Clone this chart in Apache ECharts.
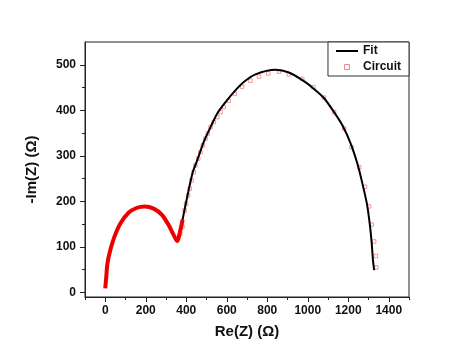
<!DOCTYPE html>
<html>
<head>
<meta charset="utf-8">
<script src="https://cdn.jsdelivr.net/npm/echarts@6/dist/echarts.min.js"></script>
<style>html,body{margin:0;padding:0;background:#fff;}#c{width:474px;height:355px;}</style>
</head>
<body>
<div id="c"></div>
<script>
// Dense high-frequency arc of the circuit data (drawn as thick red trace)
const denseX = [0, 5, 11, 25, 45, 74, 115, 157, 195, 239, 281, 313, 338, 355, 371, 382];
const denseY = [9, 34, 64, 93, 122, 151, 175, 186, 189, 184, 170, 148, 126, 113, 137, 160];
// Fit curve
const fitX = [355, 377, 401, 432, 454, 486, 520, 553, 594, 635, 684, 742, 841, 907, 981, 1031, 1080, 1130, 1171, 1212, 1245, 1270, 1292, 1306, 1316, 1322, 1328];
const fitY = [113, 150, 202, 264, 290, 330, 363, 393, 418, 440, 462, 479, 489, 483, 464, 447, 427, 396, 367, 327, 283, 239, 195, 151, 107, 71, 49];
// Circuit (sparse squares)
const circX = [371, 381, 392, 399, 409, 417, 426, 437, 445, 459, 470, 482, 495, 506, 520, 536, 553, 569, 585, 610, 640, 676, 717, 759, 805, 858, 907, 973, 1028, 1080, 1130, 1180, 1216, 1254, 1283, 1303, 1316, 1328, 1336, 1339];
const circY = [129, 144, 180, 195, 213, 228, 246, 264, 279, 294, 308, 323, 338, 349, 363, 374, 385, 396, 407, 421, 436, 452, 465, 474, 481, 485, 479, 469, 451, 428, 396, 360, 319, 275, 232, 189, 149, 112, 80, 55];
// Ticks
const xLabels = [0, 200, 400, 600, 800, 1000, 1200, 1400];
const xMinor = [-100, 100, 300, 500, 700, 900, 1100, 1300, 1500];
const yLabels = [0, 100, 200, 300, 400, 500];
const yMinor = [50, 150, 250, 350, 450];

const zip = (a, b) => a.map((v, i) => [v, b[i]]);
const font = 'Liberation Sans, Arial, sans-serif';
const chart = echarts.init(document.getElementById('c'));
const lab = {fontFamily: font, fontWeight: 'bold', fontSize: 12, color: '#111', formatter: v => String(v)};

chart.setOption({
  animation: false,
  backgroundColor: '#fff',
  grid: {left: 85, right: 65, top: 42, bottom: 58, show: true, borderColor: '#222', borderWidth: 1, backgroundColor: 'transparent'},
  legend: {
    data: [
      {name: 'Fit', icon: 'path://M0,0L22,0L22,2L0,2Z', itemStyle: {color: '#000'}},
      {name: 'Circuit', icon: 'path://M0,0L10,0L10,10L0,10Z', itemStyle: {color: '#fff', borderColor: '#e86a6a', borderWidth: 1}}
    ],
    symbolKeepAspect: true,
    orient: 'vertical', right: 65, top: 42,
    itemWidth: 22, itemHeight: 5, itemGap: 4,
    padding: [3, 8, 3, 8],
    borderColor: '#333', borderWidth: 1, backgroundColor: '#fff',
    textStyle: {fontFamily: font, fontWeight: 'bold', fontSize: 12, color: '#111'}
  },
  xAxis: [{
    type: 'value', min: -100, max: 1500,
    name: 'Re(Z) (Ω)', nameLocation: 'middle', nameGap: 27,
    nameTextStyle: {fontFamily: font, fontWeight: 'bold', fontSize: 15, color: '#111'},
    axisLine: {onZero: false, lineStyle: {color: '#222', width: 1}},
    axisTick: {customValues: xLabels, length: 5, lineStyle: {color: '#222'}},
    axisLabel: Object.assign({customValues: xLabels, margin: 8}, lab),
    splitLine: {show: false}
  }, {
    type: 'value', min: -100, max: 1500, position: 'bottom',
    axisLine: {show: false, onZero: false},
    axisTick: {customValues: xMinor, length: 3, lineStyle: {color: '#222'}},
    axisLabel: {show: false},
    splitLine: {show: false}
  }],
  yAxis: [{
    type: 'value', min: -10, max: 550,
    name: '-Im(Z) (Ω)', nameLocation: 'middle', nameGap: 46,
    nameTextStyle: {fontFamily: font, fontWeight: 'bold', fontSize: 15, color: '#111'},
    axisLine: {show: true, onZero: false, lineStyle: {color: '#222', width: 1}},
    axisTick: {show: true, customValues: yLabels, length: 5, lineStyle: {color: '#222'}},
    axisLabel: Object.assign({customValues: yLabels, margin: 9}, lab),
    splitLine: {show: false}
  }, {
    type: 'value', min: -10, max: 550, position: 'left',
    axisLine: {show: false, onZero: false},
    axisTick: {show: true, customValues: yMinor, length: 3, lineStyle: {color: '#222'}},
    axisLabel: {show: false},
    splitLine: {show: false}
  }],
  series: [{
    name: 'Fit', type: 'line', data: zip(fitX, fitY),
    smooth: 0.25, symbol: 'none', z: 3,
    lineStyle: {color: '#000', width: 2}, itemStyle: {color: '#000'}
  }, {
    name: 'Circuit', type: 'scatter', data: zip(circX, circY),
    symbol: 'rect', symbolSize: 3.5, z: 2,
    itemStyle: {color: '#fff', borderColor: '#ee8080', borderWidth: 1}
  }, {
    name: 'CircuitDense', type: 'line', data: zip(denseX, denseY),
    smooth: 0.3, symbol: 'none', z: 4,
    lineStyle: {color: '#ee0000', width: 4}
  }]
});
</script>
</body>
</html>
